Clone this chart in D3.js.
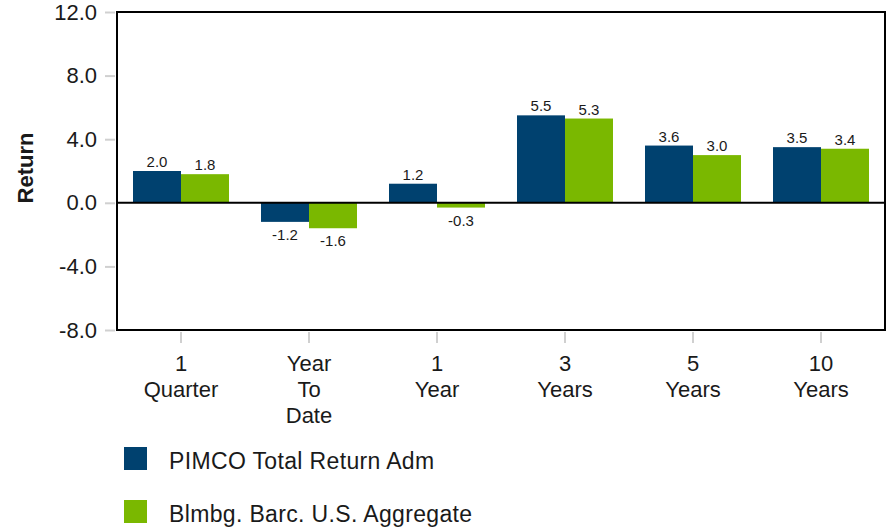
<!DOCTYPE html>
<html>
<head>
<meta charset="utf-8">
<script src="https://cdn.jsdelivr.net/npm/d3@7"></script>
<style>
	body { margin: 0; background: #fff; }
	text { font-family: "Liberation Sans", Arial, sans-serif; fill: #1a1a1a; }
</style>
</head>
<body>
<svg id="chart" width="894" height="531"></svg>
<script>
// chart values
var categories = [["1", "Quarter"], ["Year", "To", "Date"], ["1", "Year"], ["3", "Years"], ["5", "Years"], ["10", "Years"]];
var seriesNames = ["PIMCO Total Return Adm", "Blmbg. Barc. U.S. Aggregate"];
var pimco = [2.0, -1.2, 1.2, 5.5, 3.6, 3.5];
var aggregate = [1.8, -1.6, -0.3, 5.3, 3.0, 3.4];
var yTicks = [-8, -4, 0, 4, 8, 12];
var colors = ["#00416f", "#7ab800"];

var svg = d3.select("#chart");
var plotLeft = 117, plotRight = 885, plotTop = 12, plotBottom = 330;

// plain hyphen for negatives, like the original
var fmt = d3.formatLocale({decimal: ".", thousands: ",", grouping: [3], currency: ["", ""], minus: "-"}).format(".1f");

var x0 = d3.scaleBand()
	.domain(d3.range(categories.length))
	.range([plotLeft, plotRight])
	.paddingInner(0.25)
	.paddingOuter(0.125);
var x1 = d3.scaleBand()
	.domain(d3.range(seriesNames.length))
	.range([0, x0.bandwidth()]);
var y = d3.scaleLinear().domain([-8, 12]).range([plotBottom, plotTop]);

// y axis ticks + labels
var yAxis = svg.append("g")
	.attr("transform", "translate(" + (plotLeft - 2) + ",0)")
	.call(d3.axisLeft(y).tickValues(yTicks).tickSize(10).tickSizeOuter(0).tickFormat(fmt));
yAxis.select(".domain").remove();
yAxis.selectAll(".tick line").attr("stroke", "#d0d0d0").attr("stroke-width", 2);
yAxis.selectAll(".tick text")
	.attr("x", -18)
	.attr("font-size", 22)
	.attr("font-family", "Liberation Sans, Arial, sans-serif")
	.attr("fill", "#1a1a1a");

// x axis ticks
var xAxis = svg.append("g")
	.attr("transform", "translate(0," + (plotBottom + 2) + ")")
	.call(d3.axisBottom(x0).tickSize(11).tickSizeOuter(0).tickFormat(""));
xAxis.select(".domain").remove();
xAxis.selectAll(".tick line").attr("stroke", "#d0d0d0").attr("stroke-width", 2);

// category labels, multi-line
var catText = svg.append("g").selectAll("text")
	.data(categories)
	.enter().append("text")
		.attr("text-anchor", "middle")
		.attr("font-size", 22)
		.attr("x", function(d, i) { return x0(i) + x0.bandwidth() / 2; })
		.attr("y", 371);
catText.selectAll("tspan")
	.data(function(d) { return d; })
	.enter().append("tspan")
		.attr("x", function() { return d3.select(this.parentNode).attr("x"); })
		.attr("dy", function(d, i) { return i == 0 ? 0 : 26; })
		.text(function(d) { return d; });

// bars
var rows = categories.map(function(c, i) { return [pimco[i], aggregate[i]]; });
var groups = svg.append("g").selectAll("g")
	.data(rows)
	.enter().append("g")
		.attr("transform", function(d, i) { return "translate(" + x0(i) + ",0)"; });

groups.selectAll("rect")
	.data(function(d) { return d; })
	.enter().append("rect")
		.attr("x", function(d, j) { return x1(j); })
		.attr("width", x1.bandwidth())
		.attr("y", function(d) { return y(Math.max(0, d)); })
		.attr("height", function(d) { return Math.abs(y(d) - y(0)); })
		.attr("fill", function(d, j) { return colors[j]; });

groups.selectAll("text")
	.data(function(d) { return d; })
	.enter().append("text")
		.attr("text-anchor", "middle")
		.attr("font-size", 15)
		.attr("x", function(d, j) { return x1(j) + x1.bandwidth() / 2; })
		.attr("y", function(d) { return d >= 0 ? y(d) - 4 : y(d) + 18; })
		.text(function(d) { return fmt(d); });

// zero line and frame
svg.append("line")
	.attr("x1", plotLeft).attr("x2", plotRight)
	.attr("y1", y(0)).attr("y2", y(0))
	.attr("stroke", "#000").attr("stroke-width", 2);
svg.append("rect")
	.attr("x", plotLeft).attr("y", plotTop)
	.attr("width", plotRight - plotLeft).attr("height", plotBottom - plotTop)
	.attr("fill", "none").attr("stroke", "#000").attr("stroke-width", 2);

// axis title
svg.append("text")
	.attr("transform", "translate(33,168) rotate(-90)")
	.attr("text-anchor", "middle")
	.attr("font-size", 22)
	.attr("font-weight", "bold")
	.text("Return");

// legend
var legend = svg.append("g").selectAll("g")
	.data(seriesNames)
	.enter().append("g")
		.attr("transform", function(d, i) { return "translate(124," + (447 + i * 53) + ")"; });
legend.append("rect")
	.attr("width", 23).attr("height", 23)
	.attr("fill", function(d, i) { return colors[i]; });
legend.append("text")
	.attr("x", 45).attr("y", 22)
	.attr("font-size", 23)
	.attr("letter-spacing", 0.35)
	.text(function(d) { return d; });
</script>
</body>
</html>
